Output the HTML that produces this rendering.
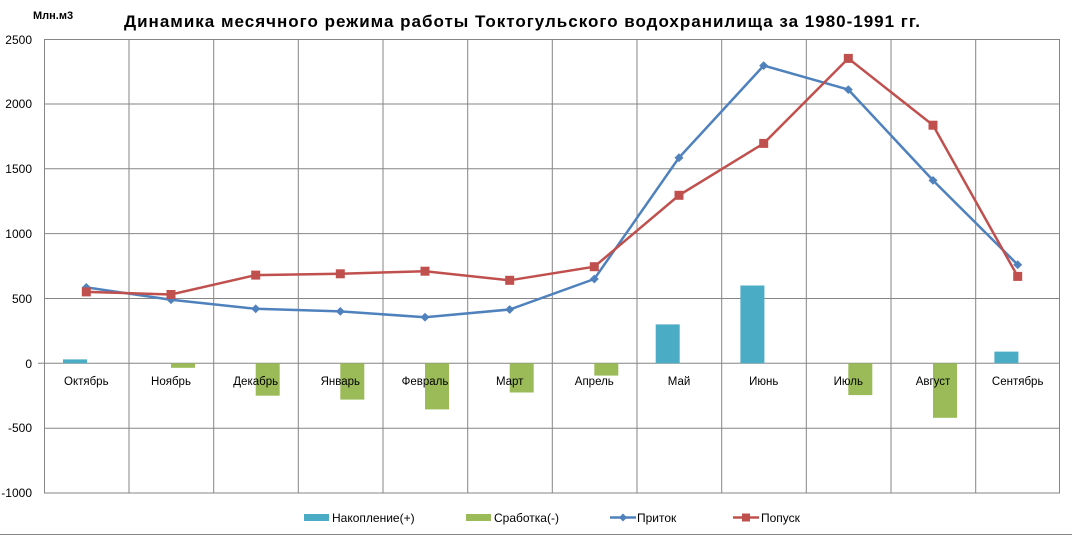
<!DOCTYPE html>
<html><head><meta charset="utf-8"><style>
body{margin:0;background:#fff}
svg{display:block;font-family:"Liberation Sans",Arial,sans-serif}
</style></head><body>
<svg width="1072" height="536" viewBox="0 0 1072 536">
<rect width="1072" height="536" fill="#fff"/>
<text x="124" y="27" font-size="17" font-weight="bold" textLength="796" lengthAdjust="spacing">Динамика  месячного  режима работы Токтогульского  водохранилища  за 1980-1991 гг.</text>
<text x="33" y="19" font-size="11" font-weight="bold">Млн.м3</text>
<g stroke="#868686" stroke-width="1">
<line x1="44" y1="39.5" x2="1060" y2="39.5"/><line x1="44" y1="104" x2="1060" y2="104"/>
<line x1="44" y1="168.7" x2="1060" y2="168.7"/><line x1="44" y1="233.6" x2="1060" y2="233.6"/>
<line x1="44" y1="298.5" x2="1060" y2="298.5"/><line x1="38" y1="363.3" x2="1060" y2="363.3"/>
<line x1="44" y1="428.2" x2="1060" y2="428.2"/><line x1="44" y1="493" x2="1060" y2="493"/>
<line x1="44.5" y1="39" x2="44.5" y2="493"/><line x1="129" y1="39" x2="129" y2="493"/>
<line x1="213.7" y1="39" x2="213.7" y2="493"/><line x1="298.3" y1="39" x2="298.3" y2="493"/>
<line x1="383" y1="39" x2="383" y2="493"/><line x1="467.7" y1="39" x2="467.7" y2="493"/>
<line x1="552.3" y1="39" x2="552.3" y2="493"/><line x1="637" y1="39" x2="637" y2="493"/>
<line x1="721.7" y1="39" x2="721.7" y2="493"/><line x1="806.3" y1="39" x2="806.3" y2="493"/>
<line x1="891" y1="39" x2="891" y2="493"/><line x1="975.7" y1="39" x2="975.7" y2="493"/>
<line x1="1059.5" y1="39" x2="1059.5" y2="493"/>
<line x1="0" y1="534.5" x2="1072" y2="534.5"/>
</g>
<g font-size="12" text-anchor="end">
<text x="32" y="44">2500</text><text x="32" y="108">2000</text><text x="32" y="173">1500</text>
<text x="32" y="238">1000</text><text x="32" y="303">500</text><text x="32" y="368">0</text>
<text x="32" y="432">-500</text><text x="32" y="497">-1000</text>
</g>
<g fill="#4bacc6">
<rect x="63" y="359.4" width="24" height="3.9"/><rect x="655.7" y="324.4" width="24" height="38.9"/>
<rect x="740.4" y="285.5" width="24" height="77.8"/><rect x="994.4" y="351.6" width="24" height="11.7"/>
</g>
<g fill="#9bbb59">
<rect x="171" y="363.3" width="24" height="4.5"/><rect x="255.7" y="363.3" width="24" height="32.4"/>
<rect x="340.3" y="363.3" width="24" height="36.3"/><rect x="425" y="363.3" width="24" height="46.1"/>
<rect x="509.7" y="363.3" width="24" height="29.2"/><rect x="594.3" y="363.3" width="24" height="12.3"/>
<rect x="848.3" y="363.3" width="24" height="31.8"/><rect x="933" y="363.3" width="24" height="54.5"/>
</g>
<g font-size="11.5" text-anchor="middle">
<text x="86.3" y="385">Октябрь</text><text x="171" y="385">Ноябрь</text><text x="255.7" y="385">Декабрь</text>
<text x="340.3" y="385">Январь</text><text x="425" y="385">Февраль</text><text x="509.7" y="385">Март</text>
<text x="594.3" y="385">Апрель</text><text x="679" y="385">Май</text><text x="763.7" y="385">Июнь</text>
<text x="848.3" y="385">Июль</text><text x="933" y="385">Август</text><text x="1017.7" y="385">Сентябрь</text>
</g>
<polyline fill="none" stroke="#4f81bd" stroke-width="2.5" points="86.3,287.4 171,299.7 255.7,308.8 340.3,311.4 425,317.2 509.7,309.5 594.3,279 679,157.7 763.7,65.6 848.3,89.6 933,180.4 1017.7,264.7"/>
<g fill="#4f81bd">
<path d="M86.3,283l4.5,4.4-4.5,4.4-4.5-4.4z"/><path d="M171,295.3l4.5,4.4-4.5,4.4-4.5-4.4z"/>
<path d="M255.7,304.4l4.5,4.4-4.5,4.4-4.5-4.4z"/><path d="M340.3,307l4.5,4.4-4.5,4.4-4.5-4.4z"/>
<path d="M425,312.8l4.5,4.4-4.5,4.4-4.5-4.4z"/><path d="M509.7,305.1l4.5,4.4-4.5,4.4-4.5-4.4z"/>
<path d="M594.3,274.6l4.5,4.4-4.5,4.4-4.5-4.4z"/><path d="M679,153.3l4.5,4.4-4.5,4.4-4.5-4.4z"/>
<path d="M763.7,61.2l4.5,4.4-4.5,4.4-4.5-4.4z"/><path d="M848.3,85.2l4.5,4.4-4.5,4.4-4.5-4.4z"/>
<path d="M933,176l4.5,4.4-4.5,4.4-4.5-4.4z"/><path d="M1017.7,260.3l4.5,4.4-4.5,4.4-4.5-4.4z"/>
</g>
<polyline fill="none" stroke="#c0504d" stroke-width="2.5" points="86.3,291.9 171,294.5 255.7,275.1 340.3,273.8 425,271.2 509.7,280.3 594.3,266.7 679,195.3 763.7,143.4 848.3,58.4 933,125.2 1017.7,276.4"/>
<g fill="#c0504d">
<rect x="81.8" y="287.4" width="9" height="9"/><rect x="166.5" y="290" width="9" height="9"/>
<rect x="251.2" y="270.6" width="9" height="9"/><rect x="335.8" y="269.3" width="9" height="9"/>
<rect x="420.5" y="266.7" width="9" height="9"/><rect x="505.2" y="275.8" width="9" height="9"/>
<rect x="589.8" y="262.2" width="9" height="9"/><rect x="674.5" y="190.8" width="9" height="9"/>
<rect x="759.2" y="138.9" width="9" height="9"/><rect x="843.8" y="53.9" width="9" height="9"/>
<rect x="928.5" y="120.7" width="9" height="9"/><rect x="1013.2" y="271.9" width="9" height="9"/>
</g>
<g font-size="12">
<rect x="304" y="514" width="25" height="7" fill="#4bacc6"/><text x="332" y="522">Накопление(+)</text>
<rect x="466" y="514" width="25" height="7" fill="#9bbb59"/><text x="494" y="522">Сработка(-)</text>
<line x1="610" y1="517.5" x2="636" y2="517.5" stroke="#4f81bd" stroke-width="2.5"/>
<path d="M623,513.5l4,4-4,4-4-4z" fill="#4f81bd"/><text x="637" y="522">Приток</text>
<line x1="733" y1="517.5" x2="759" y2="517.5" stroke="#c0504d" stroke-width="2.5"/>
<rect x="742" y="513.5" width="8" height="8" fill="#c0504d"/><text x="761" y="522">Попуск</text>
</g>
</svg>
</body></html>
